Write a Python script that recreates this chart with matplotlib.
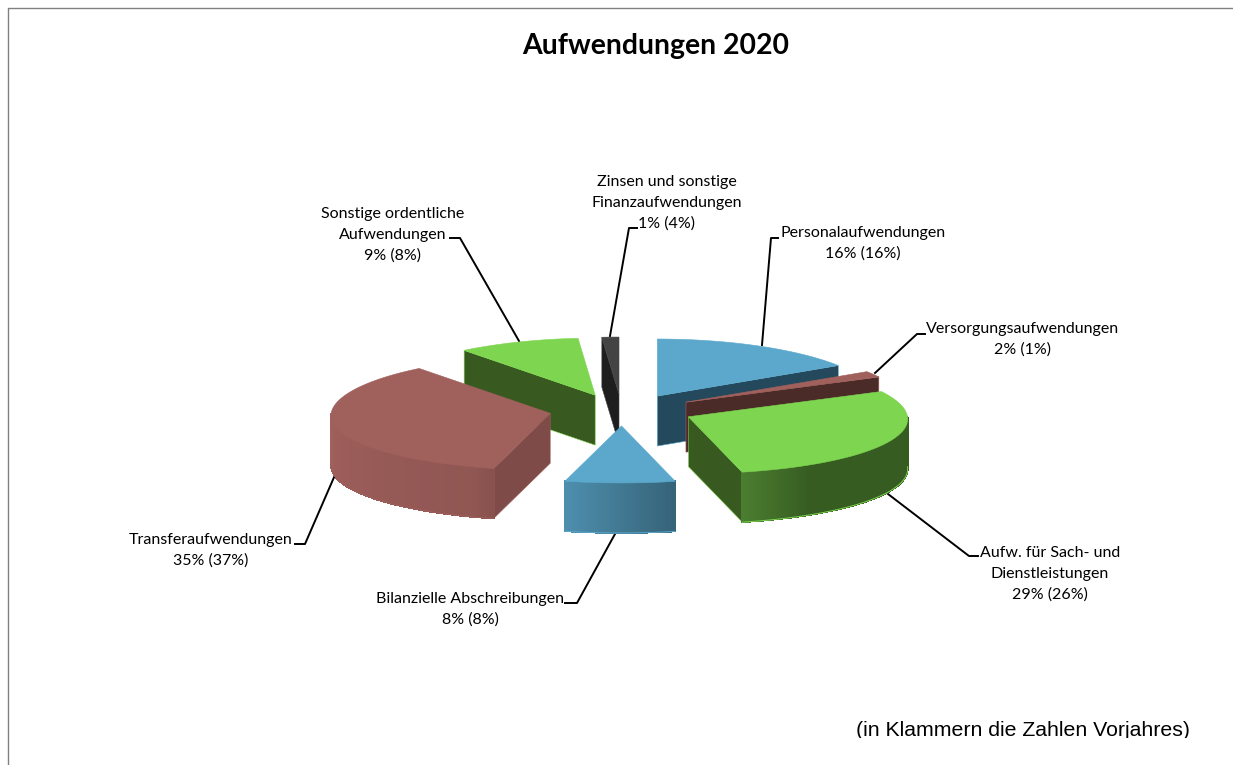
import numpy as np
import matplotlib
matplotlib.use("Agg")
import matplotlib.pyplot as plt
from matplotlib.patches import Polygon, Rectangle

# shares, clockwise from 12 o'clock
names = ["Personalaufwendungen", "Versorgungsaufwendungen", "Aufw. für Sach- und\nDienstleistungen",
         "Bilanzielle Abschreibungen", "Transferaufwendungen", "Sonstige ordentliche\nAufwendungen",
         "Zinsen und sonstige\nFinanzaufwendungen"]
shares = [16.0, 1.7, 28.5, 7.8, 35.4, 9.3, 1.3]
pct_2020 = [16, 2, 29, 8, 35, 9, 1]
pct_2019 = [16, 1, 26, 8, 37, 8, 4]

top_colors = ["#5BA8CC", "#A0605C", "#7ED550", "#5BA8CC", "#A0605C", "#7ED550", "#444444"]
wall_colors = ["#24495C", "#4A2B28", "#38591F", "#24495C", "#7E4B48", "#38591F", "#1E1E1E"]
draw_order = [0, 6, 5, 1, 2, 4, 3]

# label centre x, first line y, then leader line points
label_pos = [(863, 233), (1023, 329), (1050, 553), (470, 599), (211, 540), (393, 214), (667, 182)]
leaders = [[(778, 238), (771, 238), (762, 345)],
           [(925, 334), (917, 334), (875, 373)],
           [(978, 556), (969, 556), (888, 494)],
           [(565, 603), (577, 603), (615, 534)],
           [(295, 544), (305, 544), (335, 475)],
           [(450, 238), (460, 238), (519, 341)],
           [(637, 228), (629, 228), (610, 336)]]

CX, CY = 622, 410
RX, RY = 219, 57
DEPTH = 50
EXPLODE_X = 0.335
EXPLODE_Y = 0.28
PERSP = 0.04


def shade(theta):
    # brightness of the rim by angle
    return np.interp(theta, [90, 148, 170, 200, 270], [0.43, 0.43, 0.62, 0.9, 1.0])


def darker(color, f):
    return tuple(c * f for c in matplotlib.colors.to_rgb(color))


fig = plt.figure(figsize=(12.33, 7.65), dpi=100)
ax = fig.add_axes([0, 0, 1, 1])
ax.set_xlim(0, 1233)
ax.set_ylim(765, 0)
ax.axis("off")

ax.plot([1233, 8, 8], [8, 8, 765], color="#808080", lw=1)

edges = np.cumsum([0] + shares) * 3.6

for i in draw_order:
    start, end = edges[i], edges[i + 1]
    mid = np.radians((start + end) / 2)
    z = 2 + draw_order.index(i)

    apex = (CX + RX * EXPLODE_X * np.sin(mid), CY - RY * EXPLODE_Y * np.cos(mid))
    thetas = np.linspace(start, end, max(int((end - start) * 3) + 2, 3))
    s, c = np.sin(np.radians(thetas)), np.cos(np.radians(thetas))
    # front of the pie is a little wider than the back
    rim = list(zip(apex[0] + RX * s * (1 - PERSP * c), apex[1] - RY * c))

    # cut faces that look towards the viewer
    mx, my = rim[len(rim) // 2]
    for p in (rim[0], rim[-1]):
        dx, dy = p[0] - apex[0], p[1] - apex[1]
        if abs(dx) < 1:
            continue
        if my < apex[1] + dy * (mx - apex[0]) / dx:
            wall = [apex, p, (p[0], p[1] + DEPTH), (apex[0], apex[1] + DEPTH)]
            ax.add_patch(Polygon(wall, closed=True, fc=wall_colors[i], ec=top_colors[i], lw=0.4, zorder=z))

    # outer rim, only the front half shows
    for k in range(len(thetas) - 1):
        th = (thetas[k] + thetas[k + 1]) / 2
        if th <= 90 or th >= 270:
            continue
        a, b = rim[k], rim[k + 1]
        seg = [a, b, (b[0], b[1] + DEPTH), (a[0], a[1] + DEPTH)]
        col = darker(top_colors[i], shade(th))
        ax.add_patch(Polygon(seg, closed=True, fc=col, ec=col, lw=0.6, antialiased=False, zorder=z))
    front = [p for p, t in zip(rim, thetas) if 90 <= t <= 270]
    if front:
        ax.plot([p[0] for p in front], [p[1] + DEPTH for p in front], color=top_colors[i], lw=0.7, zorder=z)

    ax.add_patch(Polygon([apex] + rim, closed=True, fc=top_colors[i], ec=top_colors[i], lw=0.4, zorder=z))

for i, pts in enumerate(leaders):
    ax.plot([p[0] for p in pts], [p[1] for p in pts], color="black", lw=1.4, zorder=1)
    lines = names[i].split("\n") + [f"{pct_2020[i]}% ({pct_2019[i]}%)"]
    x, y = label_pos[i]
    for n, line in enumerate(lines):
        ax.text(x, y + n * 20.7, line, ha="center", va="center", fontsize=11.5, family="Lato", color="black", zorder=20)

ax.text(656, 46, "Aufwendungen 2020", ha="center", va="center", fontsize=20.4, family="Lato", weight="bold", color="black")

ax.text(1023, 731, "(in Klammern die Zahlen Vorjahres)", ha="center", va="center", fontsize=15.3,
        family="Liberation Sans", color="black", zorder=20)
ax.add_patch(Rectangle((800, 738), 433, 27, fc="white", ec="none", zorder=21))

fig.savefig("out.png", dpi=100)
